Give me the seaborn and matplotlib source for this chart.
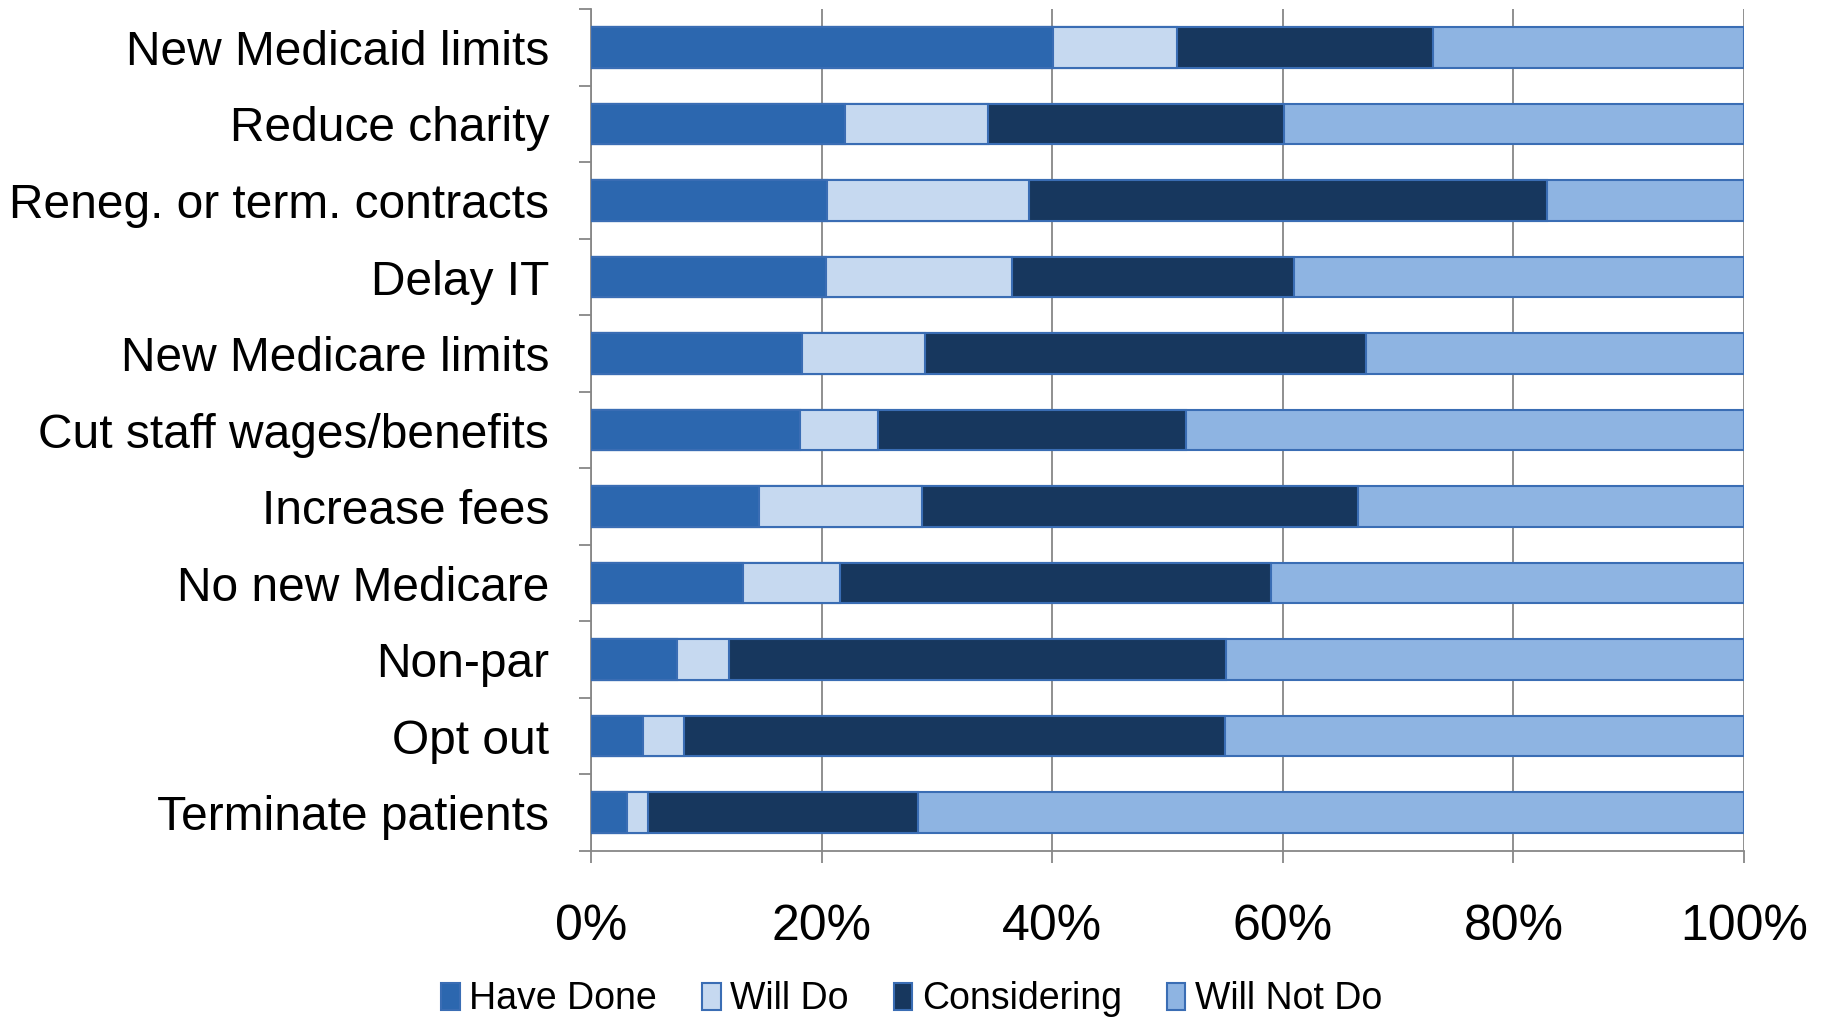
import matplotlib
matplotlib.use("Agg")
import numpy as np
import pandas as pd
import matplotlib.pyplot as plt
import seaborn as sns
from matplotlib.patches import Patch
from matplotlib.ticker import FixedLocator, PercentFormatter

# values (percent of respondents)
categories = [
    "New Medicaid limits",
    "Reduce charity",
    "Reneg. or term. contracts",
    "Delay IT",
    "New Medicare limits",
    "Cut staff wages/benefits",
    "Increase fees",
    "No new Medicare",
    "Non-par",
    "Opt out",
    "Terminate patients",
]
have_done = [40.1, 22.0, 20.5, 20.4, 18.3, 18.1, 14.6, 13.2, 7.5, 4.5, 3.1]
will_do = [10.7, 12.4, 17.5, 16.1, 10.7, 6.8, 14.1, 8.4, 4.5, 3.6, 1.8]
considering = [22.2, 25.7, 44.9, 24.5, 38.2, 26.7, 37.8, 37.4, 43.1, 46.9, 23.5]
will_not_do = [27.0, 39.9, 17.1, 39.0, 32.8, 48.4, 33.5, 41.0, 44.9, 45.0, 71.6]

series_names = ["Have Done", "Will Do", "Considering", "Will Not Do"]
colors = {
    "Have Done": "#2C67AF",
    "Will Do": "#C6D9F0",
    "Considering": "#17375E",
    "Will Not Do": "#8EB4E2",
}
edge = "#3A6DB4"

df = pd.DataFrame({
    "category": categories,
    "Have Done": have_done,
    "Will Do": will_do,
    "Considering": considering,
    "Will Not Do": will_not_do,
})
# 100% stacked -> normalise each row
df[series_names] = df[series_names].div(df[series_names].sum(axis=1), axis=0) * 100
cum = df[series_names].cumsum(axis=1)
cum["category"] = df["category"]

sns.set_style("white")
plt.rcParams["font.family"] = ["Liberation Sans", "DejaVu Sans"]
plt.rcParams["text.color"] = "black"

fig = plt.figure(figsize=(18.23, 10.24), dpi=100)
ax = fig.add_axes([0.3242, 0.169, 0.6325, 0.822])

# stacked bars: draw cumulative totals back to front
for name in reversed(series_names):
    sns.barplot(data=cum, x=name, y="category", order=categories, orient="h",
                color=colors[name], saturation=1, width=0.53, errorbar=None,
                edgecolor=edge, linewidth=1.5, ax=ax, zorder=3)

ax.set_xlim(0, 100)
ax.set_ylim(len(categories) - 0.5, -0.5)
ax.set_xlabel("")
ax.set_ylabel("")

grid_c = "#878787"
ax.xaxis.set_major_locator(FixedLocator([0, 20, 40, 60, 80, 100]))
ax.xaxis.set_major_formatter(PercentFormatter(decimals=0))
ax.xaxis.grid(True, color=grid_c, linewidth=1.3, zorder=0)
ax.set_axisbelow(True)

ax.yaxis.set_minor_locator(FixedLocator(np.arange(-0.5, len(categories), 1.0)))
ax.tick_params(axis="y", which="major", length=0, pad=30, labelsize=34.5,
               labelcolor="black")
ax.tick_params(axis="y", which="minor", direction="out", length=8.5, width=1.3,
               color=grid_c, left=True)
ax.tick_params(axis="x", which="major", direction="out", length=8.5, width=1.3,
               color=grid_c, pad=30, labelsize=36, bottom=True, labelcolor="black")

for s in ["top", "right"]:
    ax.spines[s].set_visible(False)
for s in ["left", "bottom"]:
    ax.spines[s].set_color(grid_c)
    ax.spines[s].set_linewidth(1.3)

handles = [Patch(facecolor=colors[n], edgecolor=edge, linewidth=1.5) for n in series_names]
fig.legend(handles, series_names, loc="center", bbox_to_anchor=(0.5, 0.024), ncol=4,
           frameon=False, prop={"size": 27},
           handlelength=0.5, handleheight=0.75, handletextpad=0.25, columnspacing=1.2)

fig.savefig("out.png", dpi=100)
